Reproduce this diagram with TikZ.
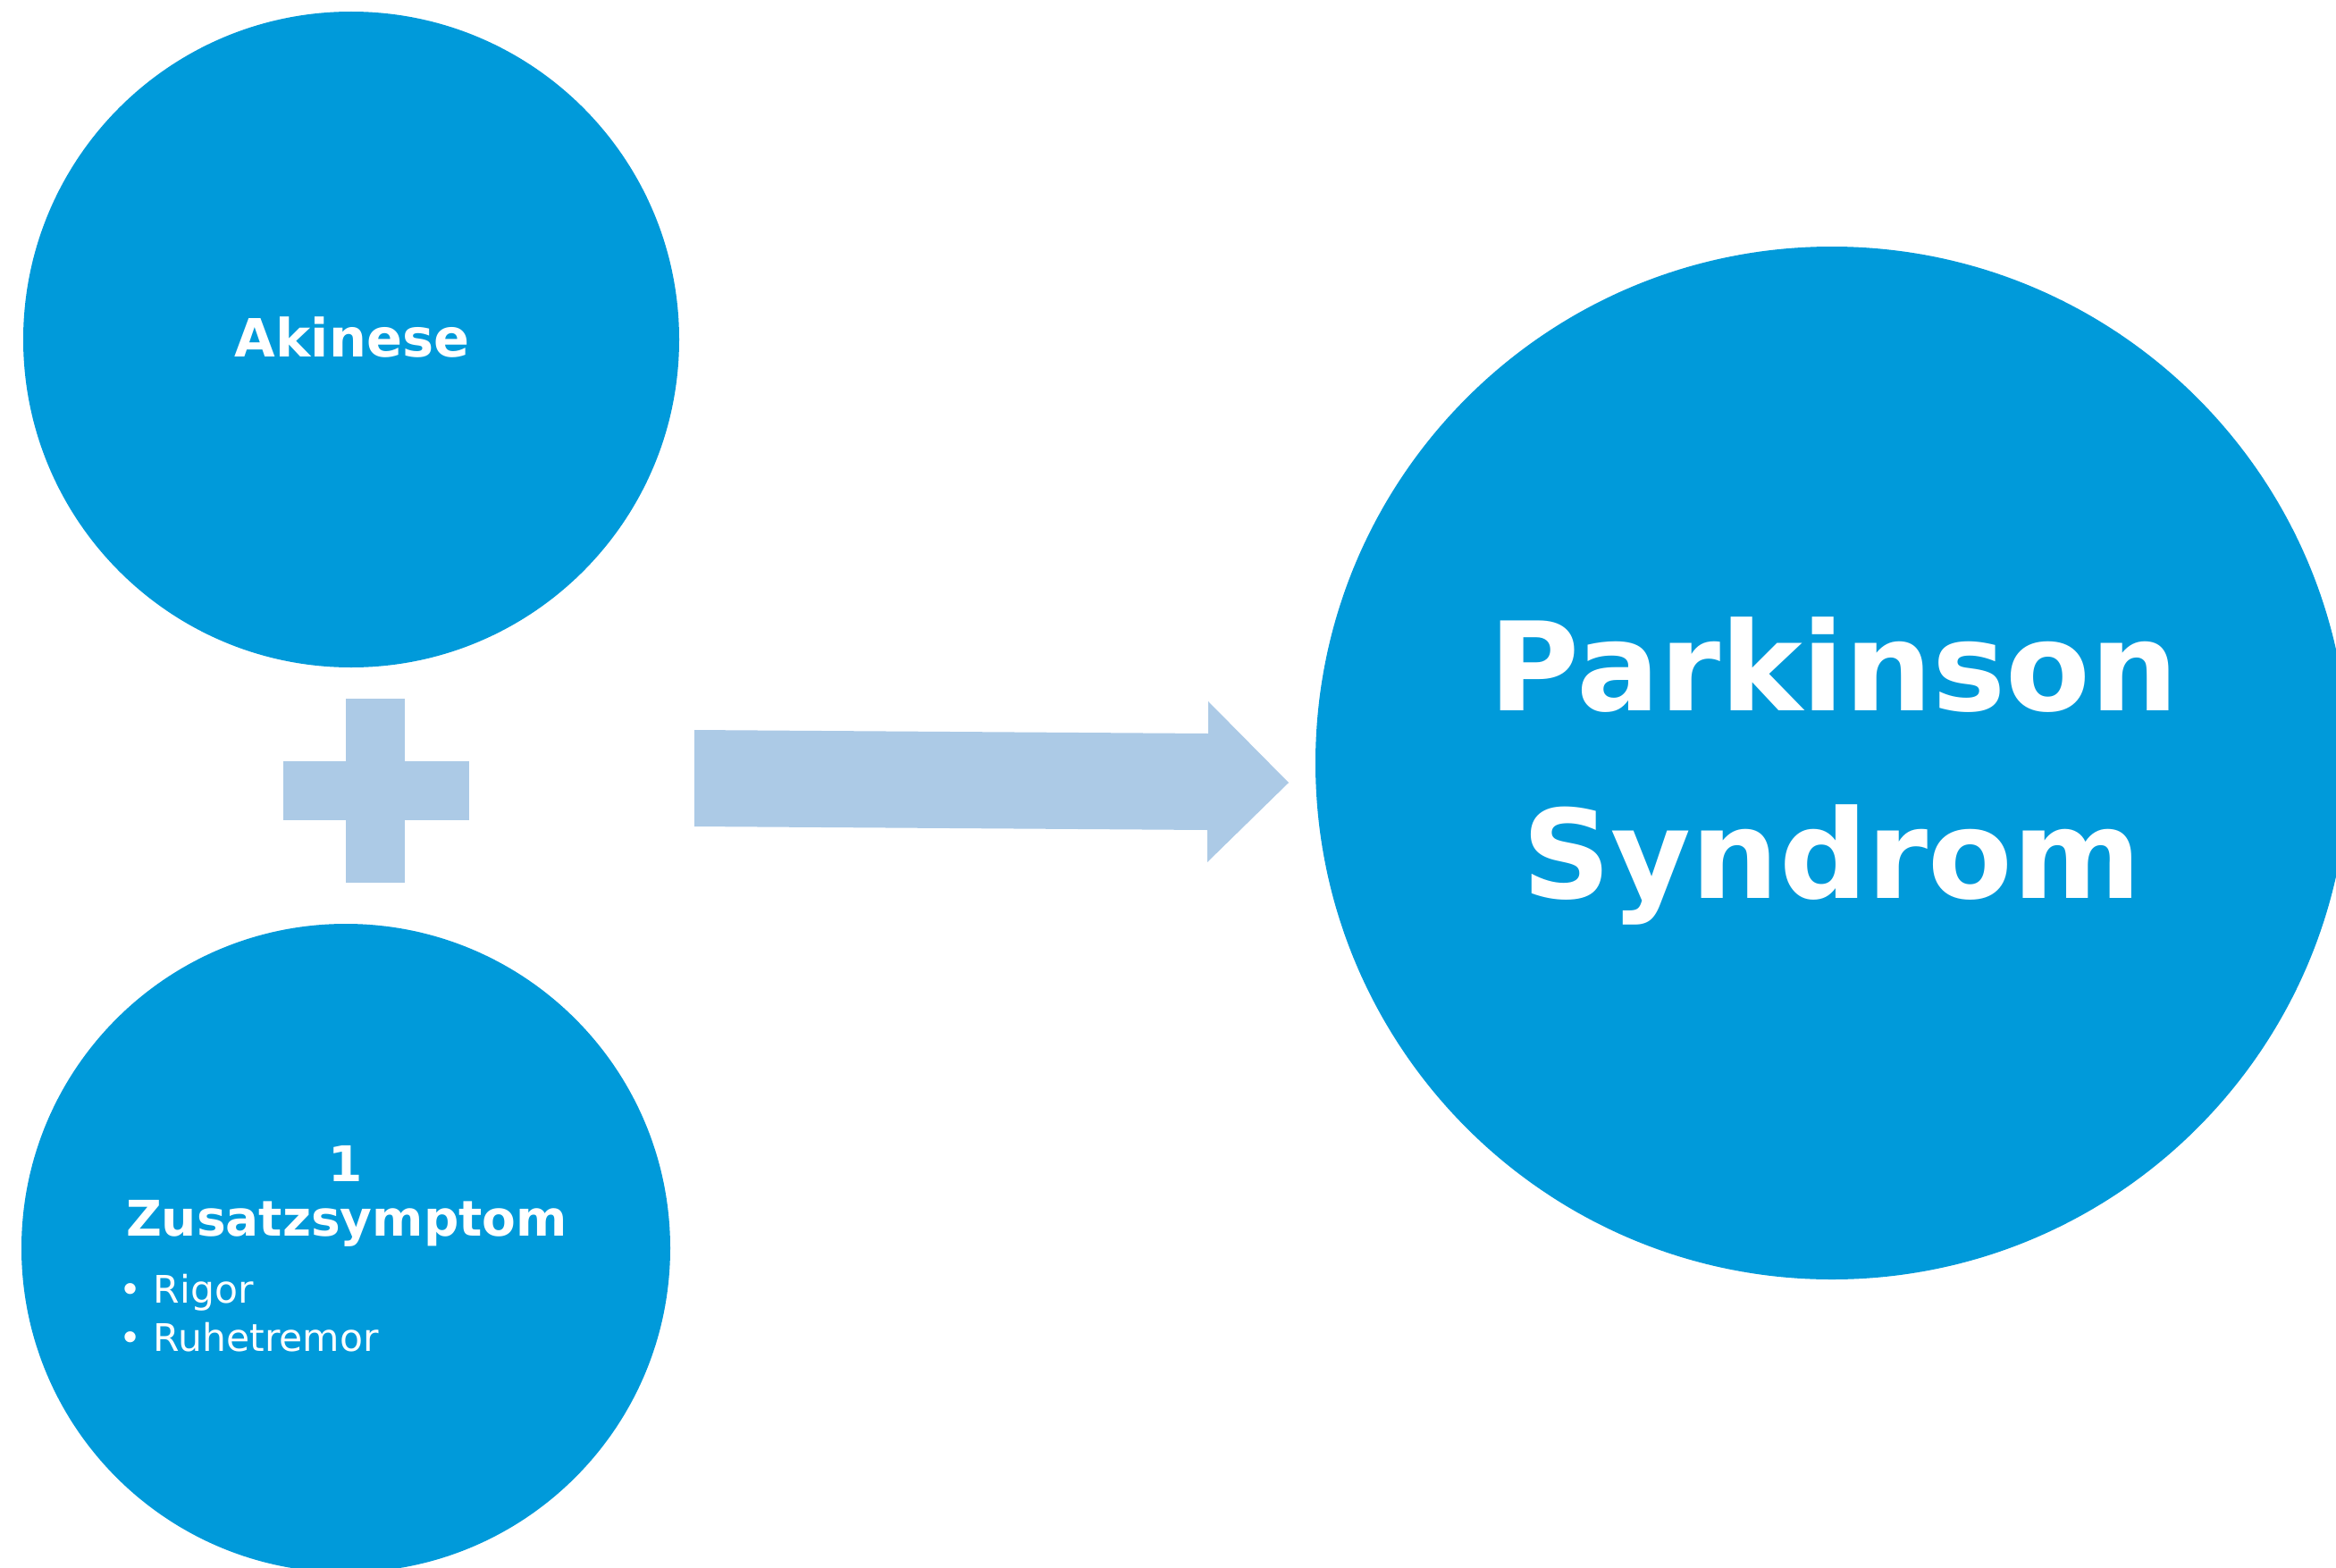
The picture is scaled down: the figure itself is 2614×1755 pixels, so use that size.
\documentclass[tikz,border=0pt]{standalone}
\usepackage{fontspec}
\setmainfont{DejaVu Sans}
\definecolor{discblue}{RGB}{0,154,218}
\definecolor{paleblue}{RGB}{172,202,230}
\begin{document}
\begin{tikzpicture}[x=1pt,y=-1pt,
  disc/.style={circle, fill=discblue, inner sep=0pt, minimum size=#1},
  txt/.style={text=white, inner sep=0pt, anchor=base},
  headfont/.style={font=\fontsize{138}{150}\selectfont\bfseries},
  midfont/.style={font=\fontsize{59}{66}\selectfont\bfseries},
  smallfont/.style={font=\fontsize{55}{60}\selectfont\bfseries},
  itemfont/.style={font=\fontsize{42.5}{48}\selectfont},
]
\useasboundingbox (0,0) rectangle (2614,1755);
\clip (0,0) rectangle (2614,1755);

% the three discs
\node[disc=734pt] (akinese) at (393,380) {};
\node[disc=726pt] (zusatz) at (387,1397) {};
\node[disc=1156pt] (parkinson) at (2050,854) {};

% plus sign between the left discs
\fill[paleblue] (387,782) rectangle (453,988);
\fill[paleblue] (317,852) rectangle (525,918);

% block arrow towards the result
\fill[paleblue] (777,817) -- (1352,821) -- (1352,785) -- (1442,876)
  -- (1351,965) -- (1351,929) -- (777,925) -- cycle;

% texts
\node[txt, midfont] (t-akinese) at (394,399) {Akinese};

\node[txt, headfont] (t-park) at (2052,795) {Parkinson};
\node[txt, headfont] (t-syn) at (2050,1005) {Syndrom};

\node[txt, smallfont] (t-one) at (387,1322) {1};
\node[txt, smallfont] (t-zus) at (388,1383) {Zusatzsymptom};

\node[txt, itemfont, anchor=base west] (t-rigor) at (133,1458) {• Rigor};
\node[txt, itemfont, anchor=base west] (t-ruhe) at (133,1512) {• Ruhetremor};
\end{tikzpicture}
\end{document}
